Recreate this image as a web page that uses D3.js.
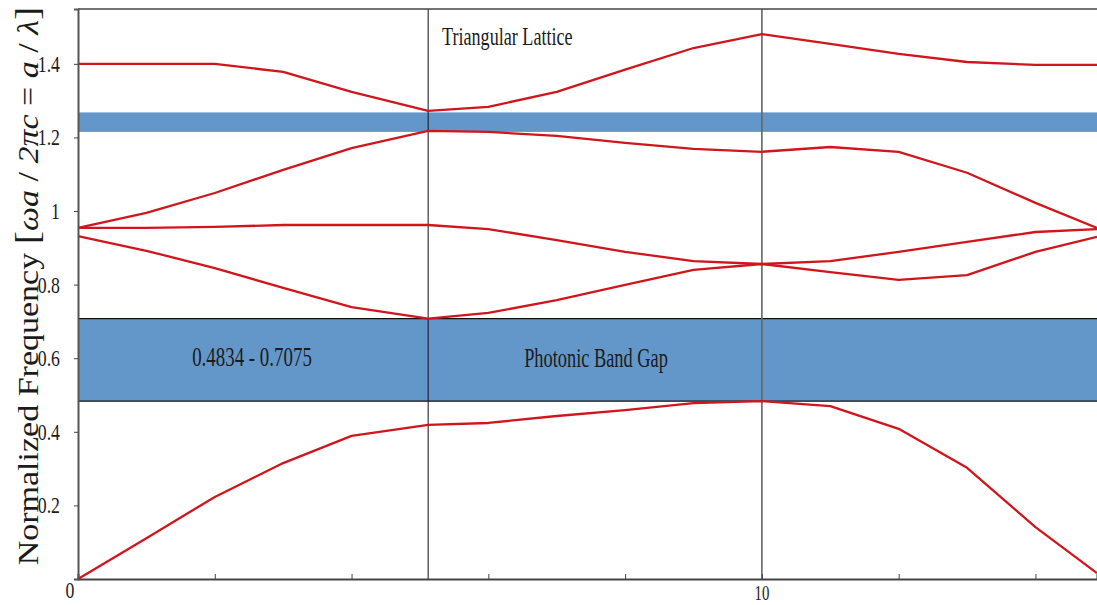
<!DOCTYPE html>
<html>
<head>
<meta charset="utf-8">
<title>Triangular Lattice</title>
<script src="https://cdn.jsdelivr.net/npm/d3@7"></script>
<style>
  body { margin: 0; background: #fff; }
  text { font-family: "Liberation Serif", "Times New Roman", serif; fill: #1b1b1b; }
</style>
</head>
<body>
<div id="chart"></div>
<script>
// k-path positions (G - M - K - G)
const kPoints = [0, 1, 2, 3, 4, 5.12, 6, 7, 8, 9, 10, 11, 12, 13, 14, 14.9];

// bands, normalized frequency at each k-point
const band1 = [0, 0.111, 0.223, 0.315, 0.389, 0.419, 0.424, 0.443, 0.459, 0.478, 0.4834, 0.470, 0.408, 0.302, 0.141, 0.016];
const band2 = [0.932, 0.892, 0.845, 0.791, 0.739, 0.7075, 0.723, 0.758, 0.799, 0.840, 0.856, 0.834, 0.813, 0.826, 0.889, 0.930];
const band3 = [0.954, 0.954, 0.957, 0.962, 0.962, 0.962, 0.951, 0.921, 0.889, 0.864, 0.856, 0.864, 0.889, 0.916, 0.943, 0.951];
const band4 = [0.954, 0.995, 1.049, 1.112, 1.171, 1.218, 1.215, 1.204, 1.185, 1.169, 1.161, 1.174, 1.161, 1.104, 1.022, 0.954];
const band5 = [1.400, 1.400, 1.400, 1.378, 1.324, 1.272, 1.283, 1.324, 1.384, 1.443, 1.481, 1.454, 1.427, 1.405, 1.397, 1.397];
const bands = [band1, band2, band3, band4, band5];

// gaps
const mainGap = [0.4834, 0.7075];
const upperGap = [1.215, 1.268];

// symmetry points M and K
const symPoints = [5.12, 10];

const xTicks = [2, 4, 6, 8, 10, 12, 14];
const yTicks = [0.2, 0.4, 0.6, 0.8, 1, 1.2, 1.4];

const width = 1097, height = 605;
const margin = { top: 9, right: 0, bottom: 26, left: 78 };

const svg = d3.select("#chart").append("svg")
  .attr("width", width)
  .attr("height", height);

const x = d3.scaleLinear().domain([0, 14.9]).range([margin.left, width - margin.right]);
const y = d3.scaleLinear().domain([0, 1.549]).range([height - margin.bottom, margin.top]);

// gap bands
svg.append("rect")
  .attr("x", x(0)).attr("width", x(14.9) - x(0))
  .attr("y", y(upperGap[1])).attr("height", y(upperGap[0]) - y(upperGap[1]))
  .attr("fill", "#6497c9");

svg.append("rect")
  .attr("x", x(0)).attr("width", x(14.9) - x(0))
  .attr("y", y(mainGap[1])).attr("height", y(mainGap[0]) - y(mainGap[1]))
  .attr("fill", "#6497c9");

svg.selectAll(".gapEdge")
  .data(mainGap)
  .join("line")
  .attr("x1", x(0)).attr("x2", x(14.9))
  .attr("y1", d => y(d)).attr("y2", d => y(d))
  .attr("stroke", "#111").attr("stroke-width", 1.2);

// symmetry lines
svg.selectAll(".sym")
  .data(symPoints)
  .join("line")
  .attr("x1", d => x(d)).attr("x2", d => x(d))
  .attr("y1", y.range()[1]).attr("y2", y.range()[0])
  .attr("stroke", (d, i) => i === 0 ? "#111" : "#666")
  .attr("stroke-width", (d, i) => i === 0 ? 1 : 1.6);

// bands
const line = d3.line()
  .x((d, i) => x(kPoints[i]))
  .y(d => y(d));

svg.selectAll(".band")
  .data(bands)
  .join("path")
  .attr("d", line)
  .attr("fill", "none")
  .attr("stroke", "#d0161c")
  .attr("stroke-width", 2.3)
  .attr("stroke-linejoin", "round");

// frame: top line
svg.append("line")
  .attr("x1", x(0)).attr("x2", width)
  .attr("y1", margin.top).attr("y2", margin.top)
  .attr("stroke", "#444").attr("stroke-width", 1.5);

// axes
const xAxis = svg.append("g")
  .attr("transform", `translate(0,${y(0)})`)
  .call(d3.axisBottom(x).tickValues(xTicks).tickSize(-5).tickFormat(""));
xAxis.select(".domain").attr("stroke", "#444").attr("stroke-width", 2);
xAxis.selectAll(".tick line").attr("stroke", "#444");

const yAxis = svg.append("g")
  .attr("transform", `translate(${x(0)},0)`)
  .call(d3.axisLeft(y).tickValues(yTicks).tickSize(4).tickFormat(""));
yAxis.select(".domain").attr("stroke", "#555").attr("stroke-width", 2);
yAxis.selectAll(".tick line").attr("stroke", "#444");

// condensed labels
function label(px, py, txt, size, sx, anchor) {
  svg.append("text")
    .attr("transform", `translate(${px},${py}) scale(${sx},1)`)
    .attr("text-anchor", anchor)
    .style("font-size", size + "px")
    .text(txt);
}

yTicks.forEach(t => label(x(0) - 18, y(t) + 8, String(t), 24, 0.74, "end"));
label(x(0) - 8, 598, "0", 24, 0.74, "middle");
label(x(10), 600, "10", 20, 0.74, "middle");

label(442, 45, "Triangular Lattice", 25, 0.725, "start");
label(252, 366, "0.4834 - 0.7075", 27, 0.7, "middle");
label(596, 367, "Photonic Band Gap", 27, 0.68, "middle");

// y axis title
const title = svg.append("text")
  .attr("transform", `translate(38,286) scale(0.85,1) rotate(-90)`)
  .attr("text-anchor", "middle")
  .style("font-size", "34px");
title.append("tspan").text("Normalized Frequency ");
title.append("tspan").style("font-size", "40px").text("[");
title.append("tspan").style("font-style", "italic").text("ωa");
title.append("tspan").text(" / ");
title.append("tspan").style("font-style", "italic").text("2πc");
title.append("tspan").text(" = ");
title.append("tspan").style("font-style", "italic").text("a");
title.append("tspan").text(" / ");
title.append("tspan").style("font-style", "italic").text("λ");
title.append("tspan").style("font-size", "40px").text("]");
</script>
</body>
</html>
